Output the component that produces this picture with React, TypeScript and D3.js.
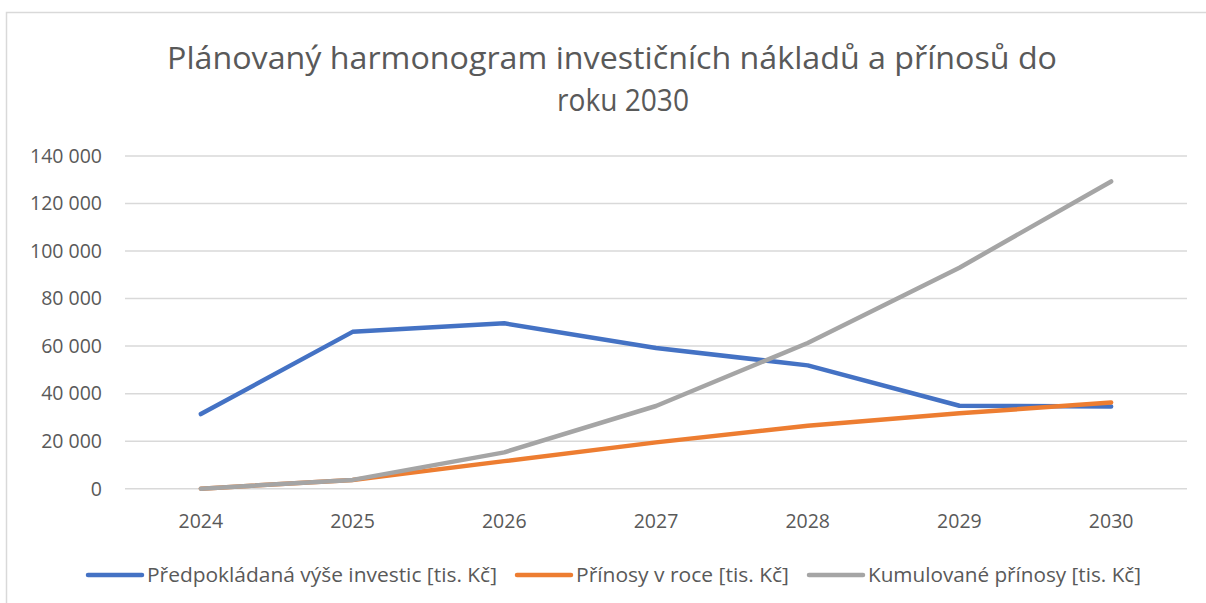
import React from "react";
import * as d3 from "d3";

const years = ["2024", "2025", "2026", "2027", "2028", "2029", "2030"];
const investice = [31400, 66000, 69600, 59200, 51900, 34900, 34600];
const prinosy = [0, 3700, 11600, 19500, 26500, 31700, 36300];
const kumulovane = [0, 3700, 15300, 34800, 61300, 93000, 129300];
const yTicks = [0, 20000, 40000, 60000, 80000, 100000, 120000, 140000];
const seriesNames = [
  "Předpokládaná výše investic [tis. Kč]",
  "Přínosy v roce [tis. Kč]",
  "Kumulované přínosy [tis. Kč]",
];
const colors = ["#4472C4", "#ED7D31", "#A5A5A5"];

const W = 1206;
const H = 603;
const font = "'Open Sans', sans-serif";

const App = () => {
  const x = d3.scaleBand().domain(years).range([125, 1187]);
  const y = d3.scaleLinear().domain([0, 140000]).range([488.7, 156]);
  const fmt = (v: number) => d3.format(",")(v).replace(/,/g, " ");

  const line = d3
    .line<number>()
    .x((d, i) => x(years[i])! + x.bandwidth() / 2)
    .y((d) => y(d));

  const allSeries = [investice, prinosy, kumulovane];

  // legend: line start x and text widths
  const legendX = [88, 517, 809];
  const legendLen = [350, 213, 273];

  return (
    <div style={{ position: "fixed", left: 0, top: 0 }}>
      <svg width={W} height={H} style={{ display: "block", background: "#fff" }}>
        <rect x={6.5} y={12.5} width={1220} height={620} fill="#fff" stroke="#d9d9d9" strokeWidth={1.5} />

        <text x={612} y={69} textAnchor="middle" fill="#595959" fontFamily={font} fontSize={31} textLength={890} lengthAdjust="spacingAndGlyphs">
          Plánovaný harmonogram investičních nákladů a přínosů do
        </text>
        <text x={623} y={111} textAnchor="middle" fill="#595959" fontFamily={font} fontSize={31} textLength={132} lengthAdjust="spacingAndGlyphs">
          roku 2030
        </text>

        {yTicks.map((t) => (
          <g key={t}>
            <line x1={125} x2={1187} y1={y(t)} y2={y(t)} stroke="#d9d9d9" strokeWidth={1.5} />
            <text x={102} y={y(t)} dy="0.35em" textAnchor="end" fill="#595959" fontFamily={font} fontSize={19.5}>
              {fmt(t)}
            </text>
          </g>
        ))}

        {years.map((yr) => (
          <text key={yr} x={x(yr)! + x.bandwidth() / 2} y={528} textAnchor="middle" fill="#595959" fontFamily={font} fontSize={19.5}>
            {yr}
          </text>
        ))}

        {allSeries.map((s, i) => (
          <path key={i} d={line(s) || ""} fill="none" stroke={colors[i]} strokeWidth={4.5} strokeLinecap="round" strokeLinejoin="round" />
        ))}

        {seriesNames.map((n, i) => (
          <g key={n}>
            <line x1={legendX[i]} x2={legendX[i] + 54} y1={575} y2={575} stroke={colors[i]} strokeWidth={4.5} strokeLinecap="round" />
            <text x={legendX[i] + 59} y={575} dy="0.35em" fill="#595959" fontFamily={font} fontSize={19.5} textLength={legendLen[i]} lengthAdjust="spacingAndGlyphs">
              {n}
            </text>
          </g>
        ))}
      </svg>
    </div>
  );
};

export default App;
